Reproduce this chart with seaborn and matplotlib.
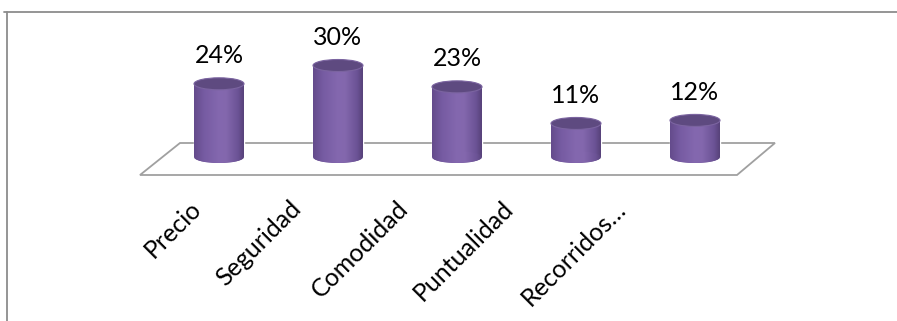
import numpy as np
import pandas as pd
import matplotlib
matplotlib.use("Agg")
import matplotlib.pyplot as plt
import seaborn as sns
from matplotlib.patches import Ellipse, Polygon
from matplotlib.colors import LinearSegmentedColormap
from matplotlib.lines import Line2D
from matplotlib.transforms import ScaledTranslation

# ---- data ----
categories = ["Precio", "Seguridad", "Comodidad", "Puntualidad", "Recorridos…"]
values = [24, 30, 23, 11, 12]
value_labels = ["24%", "30%", "23%", "11%", "12%"]

# ---- style / layout ----
sns.set_style("white")
plt.rcParams["font.family"] = ["Lato", "DejaVu Sans"]

W, H, DPI = 897, 321, 100
px_cat = 119.0     # pixels per category
px_pct = 3.05      # pixels per percent
x0_px = 219.0      # pixel x of first category
y0_px = 157.0      # pixel y (from top) of value 0
label_y_px = 197.0
label_shift_px = [-30, -49, -61, -75, -81]
FS = 18

fig = plt.figure(figsize=(W / DPI, H / DPI), dpi=DPI, facecolor="white")
ax = fig.add_axes([0, 0, 1, 1])
ax.set_facecolor("white")

df = pd.DataFrame({"cat": categories, "val": values})
bar_w = 50 / px_cat
sns.barplot(data=df, x="cat", y="val", width=bar_w, color="#7A5FA6",
            saturation=1, ax=ax, zorder=3)

container = ax.containers[0]
texts = ax.bar_label(container, labels=value_labels, padding=12, fontsize=FS,
                     color="black")
for t in texts:
    t.set_transform(t.get_transform() + ScaledTranslation(4 / DPI, 0, fig.dpi_scale_trans))

ell_h = 12 / px_pct
cmap = LinearSegmentedColormap.from_list(
    "cyl", [(0, "#644B8B"), (0.2, "#765BA2"), (0.5, "#8468AF"),
            (0.65, "#8367AD"), (0.88, "#6C5396"), (1, "#574279")])
grad = np.linspace(0, 1, 256)[None, :]

for p in list(container.patches):
    x = p.get_x(); w = p.get_width(); h = p.get_height()
    cx = x + w / 2
    bottom = Ellipse((cx, 0), w, ell_h, facecolor="#6C5396", edgecolor="none", zorder=2.9)
    ax.add_patch(bottom)
    for clip in (p, bottom):
        im = ax.imshow(grad, cmap=cmap, extent=(x, x + w, -ell_h / 2, h),
                       aspect="auto", zorder=3.1, interpolation="bilinear")
        im.set_clip_path(clip)
    top = Ellipse((cx, h), w, ell_h, facecolor="#5E4A80", edgecolor="#7B64A0",
                  lw=0.8, zorder=3.2)
    ax.add_patch(top)

# floor of the 3D plot area
n = len(categories)
yb = (y0_px - 143) / px_pct
yf = (y0_px - 175) / px_pct
floor = Polygon([(-0.664, yf), (-0.328, yb), (n - 1 + 0.672, yb), (n - 1 + 0.353, yf)],
                closed=True, facecolor="white", edgecolor="#A0A0A0", lw=1.3, zorder=1)
ax.add_patch(floor)

ax.set_xlim(-x0_px / px_cat, (W - x0_px) / px_cat)
ax.set_ylim((y0_px - H) / px_pct, y0_px / px_pct)

for s in ax.spines.values():
    s.set_visible(False)
ax.spines["bottom"].set_position(("data", (y0_px - label_y_px) / px_pct))
ax.set_yticks([])
ax.set_xlabel("")
ax.set_ylabel("")
ax.tick_params(axis="x", length=0, pad=0, labelsize=FS, colors="black")
for lab, dx in zip(ax.get_xticklabels(), label_shift_px):
    lab.set_rotation(45)
    lab.set_ha("right")
    lab.set_va("top")
    lab.set_rotation_mode("anchor")
    lab.set_transform(lab.get_transform() + ScaledTranslation(dx / DPI, 0, fig.dpi_scale_trans))

# chart frame (partially cropped)
fig.add_artist(Line2D([4 / W, 1], [1 - 11.5 / H] * 2, color="#8C8C8C", lw=1.3))
fig.add_artist(Line2D([6.5 / W] * 2, [0, 1 - 11.5 / H], color="#8C8C8C", lw=1.3))

fig.savefig("out.png", dpi=DPI, facecolor="white")
